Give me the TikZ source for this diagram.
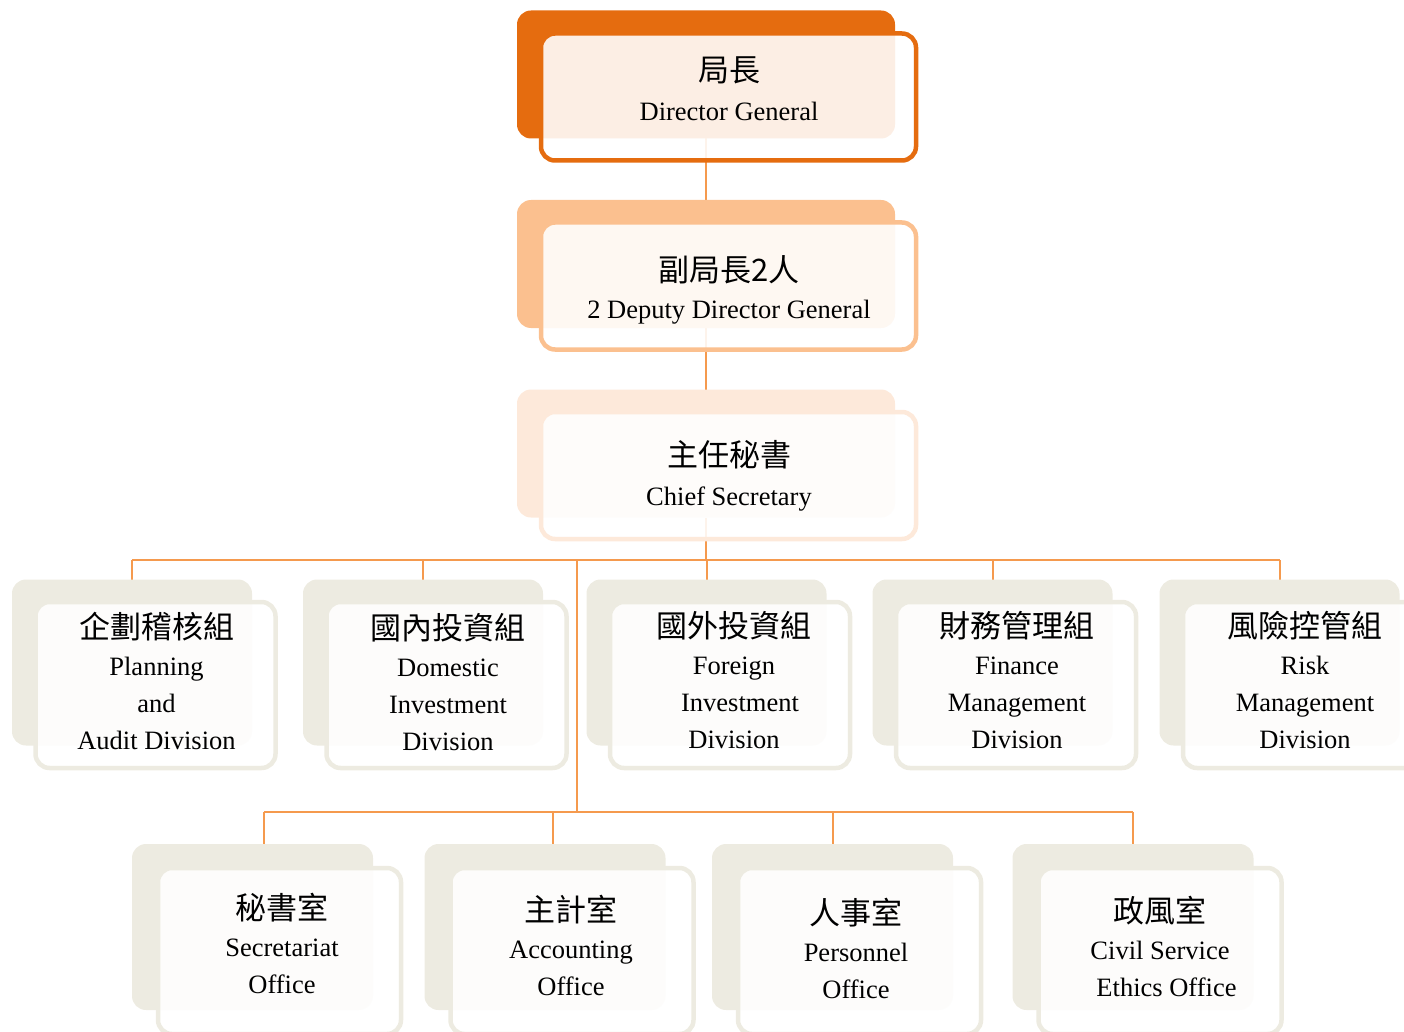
\documentclass[tikz,border=0pt]{standalone}
\usepackage{fontspec}
\setmainfont{Liberation Serif}
\newfontfamily\cjk{Noto Sans CJK TC}
\usetikzlibrary{positioning,backgrounds}
\definecolor{dgorange}{RGB}{229,108,15}
\definecolor{ddgorange}{RGB}{251,192,143}
\definecolor{csorange}{RGB}{253,233,218}
\definecolor{unitbeige}{RGB}{237,235,225}
\definecolor{linkorange}{RGB}{245,154,78}
\newcommand{\zhline}[1]{{\cjk\fontsize{31}{31}\selectfont #1}}
\tikzset{
    backbox/.style={rectangle, rounded corners=14pt, inner sep=0pt, outer sep=0pt},
    frontbox/.style={rectangle, rounded corners=14pt, draw, line width=4.5pt, fill=white, fill opacity=0.89, inner sep=0pt},
    leadback/.style={backbox, minimum width=378pt, minimum height=128pt},
    leadfront/.style={frontbox, minimum width=375pt, minimum height=127pt},
    divback/.style={backbox, fill=unitbeige, minimum width=240pt, minimum height=166pt},
    divfront/.style={frontbox, draw=unitbeige, minimum width=240pt, minimum height=166pt},
    offback/.style={backbox, fill=unitbeige, minimum width=241pt, minimum height=166pt},
    offfront/.style={frontbox, draw=unitbeige, minimum width=243pt, minimum height=166pt},
    caption/.style={anchor=north, align=center, inner sep=0pt, font=\fontsize{26.5}{37}\selectfont},
    link/.style={draw=linkorange, line width=2pt}
}
\begin{document}
\begin{tikzpicture}[x=1pt,y=-1pt]
    \useasboundingbox (0,0) rectangle (1404,1032);
    \coordinate (upperbus) at (0,560);
    \coordinate (lowerbus) at (0,812);
    \coordinate (tap) at (577,560);

    % Director General
    \node [leadback, fill=dgorange] (dg0) at (706,74.5) {};
    \node [leadfront, draw=dgorange] (dg) at ([shift={(22.5,22.5)}]dg0) {};
    \node [caption] (dgtxt) at (729,57) {\zhline{局長}\\[2pt] Director General};

    % Deputies
    \node [leadback, fill=ddgorange] (ddg0) at (706,264) {};
    \node [leadfront, draw=ddgorange] (ddg) at ([shift={(22.5,22)}]ddg0) {};
    \node [caption] (ddgtxt) at (729,255) {\zhline{副局長2人}\\[0.5pt] 2 Deputy Director General};

    % Chief Secretary
    \node [leadback, fill=csorange] (cs0) at (706,453.5) {};
    \node [leadfront, draw=csorange] (cs) at ([shift={(22.5,22)}]cs0) {};
    \node [caption] (cstxt) at (729,440) {\zhline{主任秘書}\\[2pt] Chief Secretary};

    % Divisions
    \node [divback] (pad0) at (132,662.5) {};
    \node [divfront] (pad) at ([shift={(23.5,22.5)}]pad0) {};
    \node [caption] (padtxt) at (156.5,612) {\zhline{企劃稽核組}\\ Planning\\ and\\ Audit Division};

    \node [divback] (did0) at (423,662.5) {};
    \node [divfront] (did) at ([shift={(23.5,22.5)}]did0) {};
    \node [caption] (didtxt) at (448,613) {\zhline{國內投資組}\\ Domestic\\ Investment\\ Division};

    \node [divback] (fid0) at (706.5,662.5) {};
    \node [divfront] (fid) at ([shift={(23.5,22.5)}]fid0) {};
    \node [caption] (fidtxt) at (734,611) {\zhline{國外投資組}\\ Foreign\\ \hspace*{12pt}Investment\\ Division};

    \node [divback] (fmd0) at (992.5,662.5) {};
    \node [divfront] (fmd) at ([shift={(23.5,22.5)}]fmd0) {};
    \node [caption] (fmdtxt) at (1017,611.5) {\zhline{財務管理組}\\ Finance\\ Management\\ Division};

    \node [divback] (rmd0) at (1279.5,662.5) {};
    \node [divfront] (rmd) at ([shift={(23.5,22.5)}]rmd0) {};
    \node [caption] (rmdtxt) at (1305,611.5) {\zhline{風險控管組}\\ Risk\\ Management\\ Division};

    % Offices
    \node [offback] (sec0) at (252.5,927) {};
    \node [offfront] (sec) at ([shift={(27,24)}]sec0) {};
    \node [caption] (sectxt) at (282,893) {\zhline{秘書室}\\ Secretariat\\ Office};

    \node [offback] (acc0) at (545,927) {};
    \node [offfront] (acc) at ([shift={(27,24)}]acc0) {};
    \node [caption] (acctxt) at (571,895) {\zhline{主計室}\\ Accounting\\ Office};

    \node [offback] (per0) at (832.5,927) {};
    \node [offfront] (per) at ([shift={(27,24)}]per0) {};
    \node [caption] (pertxt) at (856,898) {\zhline{人事室}\\ Personnel\\ Office};

    \node [offback] (eth0) at (1133,927) {};
    \node [offfront] (eth) at ([shift={(27,24)}]eth0) {};
    \node [caption] (ethtxt) at (1160,896) {\zhline{政風室}\\ Civil Service\\ \hspace*{13pt}Ethics Office};

    % Connections
    \begin{pgfonlayer}{background}
        \draw [link] (dg0) -- (ddg0);
        \draw [link] (ddg0) -- (cs0);
        \draw [link] (cs0) -- (cs0 |- upperbus);
        \draw [link] (pad0 |- upperbus) -- (rmd0 |- upperbus);
        \foreach \n in {pad,did,fid,fmd,rmd}
            \draw [link] (\n0 |- upperbus) -- (\n0);
        \draw [link] (tap) -- (tap |- lowerbus);
        \draw [link] ([xshift=11.5pt]sec0.north |- lowerbus) -- (eth0.north |- lowerbus);
        \draw [link] ([xshift=11.5pt]sec0.north |- lowerbus) -- ([xshift=11.5pt]sec0.center);
        \draw [link] ([xshift=8pt]acc0.north |- lowerbus) -- ([xshift=8pt]acc0.center);
        \draw [link] (per0 |- lowerbus) -- (per0);
        \draw [link] (eth0 |- lowerbus) -- (eth0);
    \end{pgfonlayer}
\end{tikzpicture}
\end{document}
